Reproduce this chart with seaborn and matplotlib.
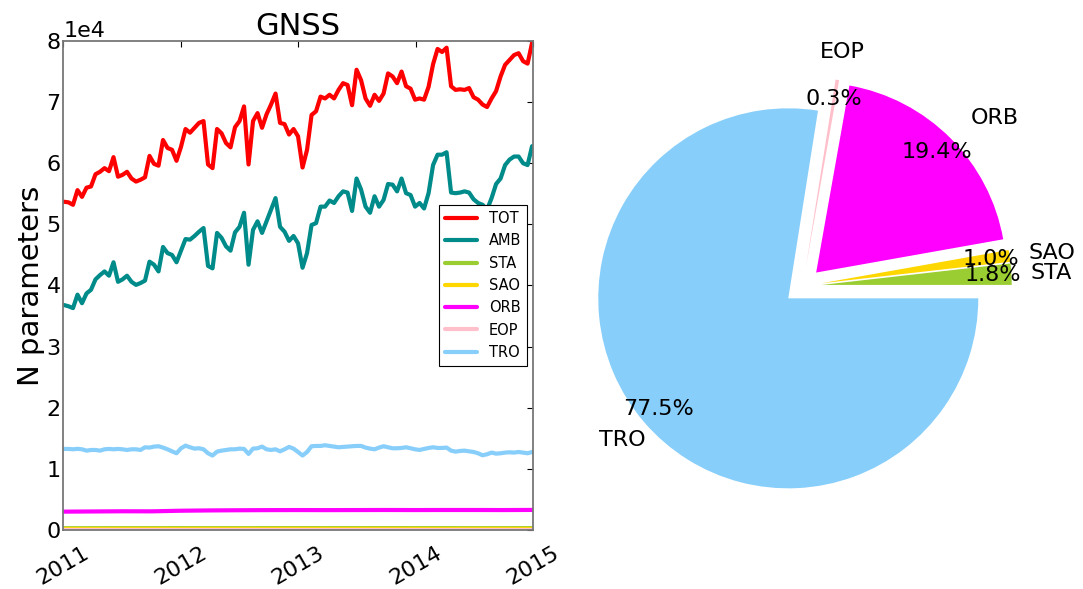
import matplotlib
matplotlib.use("Agg")
import matplotlib.pyplot as plt
import matplotlib.dates as mdates
import numpy as np
import pandas as pd
import seaborn as sns

sns.set_style("white")
plt.rcParams["font.family"] = ["DejaVu Sans"]
plt.rcParams.update({
    "text.color": "black", "axes.labelcolor": "black",
    "xtick.color": "black", "ytick.color": "black",
})

# ---- time axes -------------------------------------------------------------
fortnights = pd.date_range("2011-01-03", periods=105, freq="14D")
quarters = pd.date_range("2011-01-03", periods=17, freq="91D")

# ---- number of estimated parameters per solution ---------------------------
tot = [
    53700, 53600, 53200, 55600, 54500, 56000, 56200, 58200, 58600, 59200,
    58700, 61000, 57800, 58100, 58600, 57500, 57000, 57300, 57700, 61200,
    59900, 59600, 63800, 62500, 62200, 60400, 62700,
    65600, 65000, 65800, 66600, 66900, 59800, 59200, 65600, 64900, 63300,
    62600, 65900, 66900, 69300, 59800, 66900, 68200, 65800, 68000, 69600,
    71400, 66600, 66400, 64700, 65600, 64400,
    59300, 62200, 67900, 68500, 70900, 70600, 71200, 70600, 72000, 73100,
    72800, 69500, 75300, 73600, 70600, 69400, 71200, 70200, 71400, 74700,
    74200, 73100, 75000, 72600, 72200, 70400,
    70600, 70400, 72500, 76200, 78700, 78200, 78900, 72600, 72000, 72100,
    72000, 72300, 70800, 70400, 69600, 69200, 70600, 71800, 74200, 76100,
    76900, 77700, 78000, 76700, 76300, 79700,
]
amb = [
    36800, 36600, 36300, 38500, 37100, 38700, 39300, 41000, 41700, 42300,
    41600, 43800, 40600, 41000, 41600, 40600, 40100, 40400, 40800, 43900,
    43400, 42300, 46300, 45300, 45000, 43800, 45700,
    47600, 47500, 48100, 48800, 49400, 43200, 42800, 48600, 47800, 46400,
    45700, 48700, 49600, 51900, 43400, 49100, 50500, 48600, 50500, 52400,
    54300, 49600, 48800, 47300, 48100, 46900,
    42900, 45300, 49900, 50200, 52900, 52900, 53900, 53500, 54600, 55400,
    55200, 52200, 57500, 55700, 52900, 51900, 54600, 52900, 54000, 56600,
    56500, 55400, 57500, 55100, 54800, 52900,
    53500, 52600, 55100, 59700, 61400, 61400, 61800, 55200, 55100, 55200,
    55400, 55200, 54100, 53500, 53200, 52400, 54300, 56600, 57500, 59700,
    60600, 61100, 61100, 60000, 59700, 62800,
]
tro = [
    13260, 13260, 13200, 13280, 13200, 12980, 13090, 13090, 12980, 13200,
    13260, 13200, 13260, 13200, 13090, 13200, 13200, 13090, 13530, 13480,
    13640, 13700, 13480, 13200, 12870, 12550, 13370, 13800, 13530, 13310,
    13370, 13200, 12550, 12180, 12820, 12980, 13090, 13200, 13200, 13310,
    13260, 12440, 13310, 13370, 13640, 13200, 13090, 13200, 12870, 13200,
    13590, 13310, 12760, 12180, 12760, 13700, 13750, 13750, 13860, 13750,
    13640, 13530, 13590, 13640, 13700, 13750, 13750, 13480, 13310, 13200,
    13480, 13700, 13530, 13370, 13370, 13420, 13530, 13370, 13200, 13090,
    13260, 13420, 13530, 13420, 13420, 13480, 12980, 12820, 12930, 12980,
    12870, 12760, 12550, 12220, 12390, 12660, 12490, 12550, 12660, 12710,
    12660, 12760, 12660, 12550, 12760,
]
orb = [3000, 3030, 3060, 3050, 3150, 3200, 3230, 3250, 3260,
       3250, 3260, 3270, 3260, 3270, 3270, 3260, 3280]
sta = [290, 295, 300, 300, 305, 305, 300, 305, 310,
       305, 305, 310, 305, 305, 300, 305, 305]
sao = [165, 165, 170, 170, 170, 175, 170, 170, 175,
       170, 170, 175, 170, 170, 170, 175, 170]
eop = [50, 50, 50, 50, 50, 50, 50, 50, 50,
       50, 50, 50, 50, 50, 50, 50, 50]

series_order = ["TOT", "AMB", "STA", "SAO", "ORB", "EOP", "TRO"]
palette = {
    "TOT": "#ff0000", "AMB": "#008b8b", "STA": "#9acd32", "SAO": "#ffd700",
    "ORB": "#ff00ff", "EOP": "#ffc0cb", "TRO": "#87cefa",
}

# ---- share of non-ambiguity parameters -------------------------------------
pie_labels = ["STA", "SAO", "ORB", "EOP", "TRO"]
pie_shares = [1.8, 1.0, 19.4, 0.3, 77.5]

# ---- long-form table for seaborn -------------------------------------------
tables = []
for name, dates, vals in [("TOT", fortnights, tot), ("AMB", fortnights, amb),
                          ("STA", quarters, sta), ("SAO", quarters, sao),
                          ("ORB", quarters, orb), ("EOP", quarters, eop),
                          ("TRO", fortnights, tro)]:
    tables.append(pd.DataFrame({"date": dates, "n": vals, "type": name}))
df = pd.concat(tables, ignore_index=True)

fig = plt.figure(figsize=(10.83, 5.89), dpi=100)
ax = fig.add_axes([0.0585, 0.1002, 0.4337, 0.8302])
ax_pie = fig.add_axes([0.5219, 0.1112, 0.4386, 0.8065])

sns.lineplot(data=df, x="date", y="n", hue="type", hue_order=series_order,
             palette=palette, linewidth=3, errorbar=None, sort=True, ax=ax)

ax.set_xlim(pd.Timestamp("2011-01-01"), pd.Timestamp("2015-01-01"))
ax.set_ylim(0, 80000)
ax.set_yticks(np.arange(0, 80001, 10000))
ax.ticklabel_format(axis="y", style="sci", scilimits=(0, 0))
ax.yaxis.get_offset_text().set_fontsize(16)
ax.xaxis.set_major_locator(mdates.YearLocator())
ax.xaxis.set_major_formatter(mdates.DateFormatter("%Y"))
ax.tick_params(axis="both", which="major", direction="in", length=4,
               width=0.8, color="black", top=True, right=True,
               labelsize=16)
ax.tick_params(axis="y", pad=2)
ax.tick_params(axis="x", pad=9)
for lab in ax.get_xticklabels():
    lab.set_rotation(30)
    lab.set_ha("center")
for sp in ax.spines.values():
    sp.set_visible(True)
    sp.set_color("#777777")
    sp.set_linewidth(1.3)
ax.set_xlabel("")
ax.set_ylabel("N parameters", fontsize=21, labelpad=1)
ax.set_title("GNSS", fontsize=22, pad=4)

handles, labels = ax.get_legend_handles_labels()
leg = ax.legend(handles, labels, loc="center right", fontsize=10.5,
                frameon=True, fancybox=False, framealpha=1,
                edgecolor="black", labelspacing=0.5, handlelength=2.2,
                borderaxespad=0.4)
leg.get_frame().set_linewidth(0.8)
for line in leg.get_lines():
    line.set_linewidth(3)

wedges, texts, autotexts = ax_pie.pie(
    pie_shares, labels=pie_labels,
    colors=[palette[k] for k in pie_labels],
    explode=[0.1] * len(pie_shares), autopct="%1.1f%%",
    pctdistance=0.9, labeldistance=1.15, startangle=0,
    textprops={"fontsize": 16}, wedgeprops={"linewidth": 0})
for w, t in zip(wedges, texts):
    name = t.get_text()
    if name in ("TRO", "EOP"):
        t.set_ha("center")
    elif name in ("SAO", "STA"):
        # pull the two thin-slice labels slightly closer to their wedges
        mid = np.deg2rad(0.5 * (w.theta1 + w.theta2))
        x, y = t.get_position()
        t.set_position((x - 0.05 * np.cos(mid), y - 0.05 * np.sin(mid)))
ax_pie.set_xlim(-1.25, 1.25)
ax_pie.set_ylim(-1.25, 1.25)
ax_pie.set_aspect("equal")

fig.savefig("out.png", dpi=100)
